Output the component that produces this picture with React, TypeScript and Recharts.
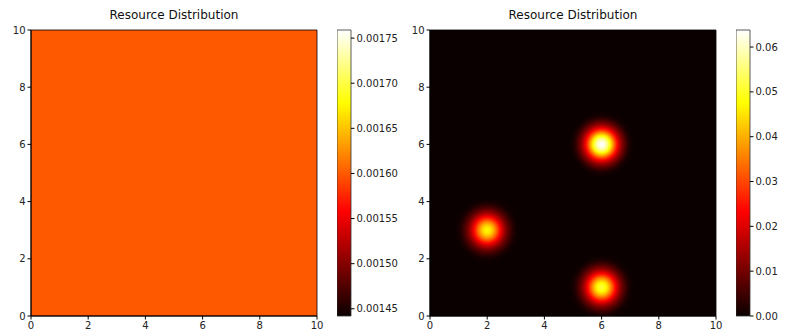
import React from 'react';
import { ScatterChart, Scatter, XAxis, YAxis, ReferenceArea } from 'recharts';

// axis ticks of both heatmaps
const gridTicks = [0, 2, 4, 6, 8, 10];

// left panel: uniform field
const leftValue = 0.0016;
const leftBarMin = 0.001442;
const leftBarMax = 0.001759;
const leftBarTicks = [0.00145, 0.0015, 0.00155, 0.0016, 0.00165, 0.0017, 0.00175];

// right panel: three resource peaks
const blobX = [2, 6, 6];
const blobY = [3, 6, 1];
const blobPeak = [0.047, 0.0638, 0.051];
const blobSpread = [0.39, 0.39, 0.39];
const rightBarMin = 0;
const rightBarMax = 0.0638;
const rightBarTicks = [0, 0.01, 0.02, 0.03, 0.04, 0.05, 0.06];

const W = 796;
const H = 333;
const PLOT = 286; // px per 10 units
const FONT = '"DejaVu Sans", sans-serif';

// matplotlib "hot" colormap
function hot(v: number) {
  const c = (x: number) => Math.max(0, Math.min(1, x));
  const r = 0.0416 + (1 - 0.0416) * c(v / 0.365079);
  const g = c((v - 0.365079) / (0.746032 - 0.365079));
  const b = c((v - 0.746032) / (1 - 0.746032));
  const h = (x: number) => Math.round(x * 255).toString(16).padStart(2, '0');
  return '#' + h(r) + h(g) + h(b);
}

const blobData = blobX.map((x, i) => ({ x, y: blobY[i], peak: blobPeak[i], spread: blobSpread[i] }));

function Blob(props: any) {
  const { cx, cy, payload, index } = props;
  const sigma = (payload.spread * PLOT) / 10;
  const R = sigma * 3;
  const id = `blob-${index}`;
  const stops = [];
  for (let i = 0; i <= 24; i++) {
    const t = i / 24;
    const d = t * 3;
    const frac = Math.exp(-(d * d) / 2);
    const color = hot((payload.peak * frac) / rightBarMax);
    const op = d < 2.2 ? 1 : Math.max(0, 1 - (d - 2.2) / 0.8);
    stops.push(<stop key={i} offset={t} stopColor={color} stopOpacity={op} />);
  }
  return (
    <g>
      <defs>
        <radialGradient id={id} cx="50%" cy="50%" r="50%">
          {stops}
        </radialGradient>
      </defs>
      <circle cx={cx} cy={cy} r={R} fill={`url(#${id})`} />
    </g>
  );
}

const tickStyle = { fill: '#222', fontSize: 10, fontFamily: FONT };

function Heatmap({ left, background, blobs }: { left: number; background: string; blobs?: boolean }) {
  return (
    <div style={{ position: 'absolute', left, top: 0 }}>
      <ScatterChart width={340} height={H} margin={{ top: 30, right: 23, bottom: 0, left: 1 }}>
        <XAxis
          type="number"
          dataKey="x"
          domain={[0, 10]}
          ticks={gridTicks}
          height={17}
          tickSize={3.5}
          tick={tickStyle}
          stroke="#000"
          allowDataOverflow
        />
        <YAxis
          type="number"
          dataKey="y"
          domain={[0, 10]}
          ticks={gridTicks}
          width={30}
          tickSize={3.5}
          tick={tickStyle}
          stroke="#000"
          allowDataOverflow
        />
        <ReferenceArea x1={0} x2={10} y1={0} y2={10} fill={background} fillOpacity={1} stroke="#000" strokeWidth={0.8} />
        {blobs && <Scatter data={blobData} shape={(p: any) => <Blob {...p} />} isAnimationActive={false} />}
      </ScatterChart>
      <div
        style={{
          position: 'absolute',
          left: 31,
          width: PLOT,
          top: 8,
          textAlign: 'center',
          fontFamily: FONT,
          fontSize: 12,
          color: '#111',
        }}
      >
        Resource Distribution
      </div>
    </div>
  );
}

function ColorBar({ left, min, max, ticks, digits, id }: any) {
  return (
    <div style={{ position: 'absolute', left, top: 0 }}>
      <ScatterChart width={74} height={H} margin={{ top: 30, right: 0, bottom: 0, left: 0 }}>
        <XAxis
          type="number"
          dataKey="x"
          domain={[0, 1]}
          height={17}
          tick={false}
          tickLine={false}
          axisLine={false}
          allowDataOverflow
        />
        <YAxis
          type="number"
          dataKey="y"
          orientation="right"
          domain={[min, max]}
          ticks={ticks}
          width={60}
          tickSize={3.5}
          tick={tickStyle}
          axisLine={false}
          stroke="#000"
          tickFormatter={(v: number) => v.toFixed(digits)}
          allowDataOverflow
        />
        <ReferenceArea x1={0} x2={1} y1={min} y2={max} fill={`url(#${id})`} fillOpacity={1} stroke="#333" strokeWidth={0.8} />
      </ScatterChart>
    </div>
  );
}

function Gradients() {
  return (
    <svg width={0} height={0} style={{ position: 'absolute' }}>
      <defs>
        {['barLeft', 'barRight'].map((id) => (
          <linearGradient key={id} id={id} x1="0" y1="1" x2="0" y2="0">
            <stop offset={0} stopColor={hot(0)} />
            <stop offset={0.365079} stopColor={hot(0.365079)} />
            <stop offset={0.746032} stopColor={hot(0.746032)} />
            <stop offset={1} stopColor={hot(1)} />
          </linearGradient>
        ))}
      </defs>
    </svg>
  );
}

export default function App() {
  return (
    <div style={{ position: 'absolute', left: 0, top: 0, width: W, height: H, background: '#fff', overflow: 'hidden' }}>
      <Gradients />
      <Heatmap left={0} background={hot((leftValue - leftBarMin) / (leftBarMax - leftBarMin))} />
      <ColorBar left={337} min={leftBarMin} max={leftBarMax} ticks={leftBarTicks} digits={5} id="barLeft" />
      <Heatmap left={399} background={hot(0)} blobs />
      <ColorBar left={736} min={rightBarMin} max={rightBarMax} ticks={rightBarTicks} digits={2} id="barRight" />
    </div>
  );
}
